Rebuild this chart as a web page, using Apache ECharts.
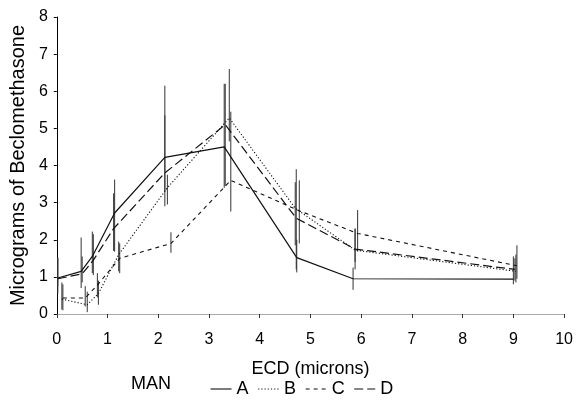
<!DOCTYPE html>
<html><head><meta charset="utf-8">
<script src="https://cdn.jsdelivr.net/npm/echarts@6/dist/echarts.min.js"></script>
<style>html,body{margin:0;padding:0;background:#fff}#c{width:576px;height:401px}</style>
</head><body><div id="c"></div>
<script>
// ---- data ----
const seriesNames = ['A', 'B', 'C', 'D'];
const xTicks = [0,1,2,3,4,5,6,7,8,9,10];
const yTicks = [0,1,2,3,4,5,6,7,8];

const xA = [0.02, 0.48, 0.70, 1.14, 2.13, 3.30, 4.73, 5.84, 9.00];
const yA = [0.97, 1.15, 1.55, 2.72, 4.22, 4.50, 1.52, 0.95, 0.94];
const loA = [0.55, 0.70, 1.10, 1.68, 3.30, 3.40, 1.12, 0.65, 0.80];
const hiA = [1.52, 2.06, 2.22, 3.62, 6.15, 6.20, 2.00, 1.25, 1.55];

const xB = [0.10, 0.60, 0.82, 1.22, 2.18, 3.40, 4.70, 5.88, 9.05];
const yB = [0.40, 0.25, 0.55, 1.60, 3.40, 5.28, 2.85, 1.72, 1.15];
const loB = [0.12, 0.05, 0.25, 1.15, 2.95, 4.65, 1.85, 1.20, 0.85];
const hiB = [0.85, 0.60, 0.90, 1.95, 3.75, 6.60, 3.55, 2.30, 1.60];

const xC = [0.12, 0.56, 0.80, 1.24, 2.25, 3.43, 4.78, 5.93, 9.07];
const yC = [0.43, 0.43, 0.78, 1.50, 1.90, 3.60, 2.78, 2.17, 1.30];
const loC = [0.10, 0.20, 0.45, 1.10, 1.65, 2.76, 1.90, 1.68, 0.95];
const hiC = [0.80, 0.75, 1.10, 1.90, 2.20, 5.45, 3.60, 2.80, 1.85];

const xD = [0.02, 0.50, 0.72, 1.12, 2.13, 3.32, 4.72, 5.88, 9.03];
const yD = [0.95, 1.08, 1.45, 2.30, 3.80, 5.10, 2.58, 1.75, 1.20];
const loD = [0.75, 0.85, 1.05, 1.70, 2.90, 3.45, 1.20, 1.40, 0.90];
const hiD = [1.50, 1.55, 2.15, 3.25, 5.35, 6.20, 3.90, 2.30, 1.50];

// ---- build ----
const FONT = "'Liberation Sans', Arial, Helvetica, sans-serif";
const sets = [
  {name: seriesNames[0], x: xA, y: yA, lo: loA, hi: hiA, dash: 'solid', w: 1.2},
  {name: seriesNames[1], x: xB, y: yB, lo: loB, hi: hiB, dash: [1.2, 2], w: 1.1},
  {name: seriesNames[2], x: xC, y: yC, lo: loC, hi: hiC, dash: [4, 4], w: 1.1},
  {name: seriesNames[3], x: xD, y: yD, lo: loD, hi: hiD, dash: [9, 4], w: 1.2}
];
const series = [];
sets.forEach(s => {
  series.push({
    type: 'line', name: s.name,
    data: s.x.map((v, i) => [v, s.y[i]]),
    symbol: 'none',
    lineStyle: {color: '#111', width: s.w, type: s.dash},
    itemStyle: {color: '#111'},
    silent: true, animation: false, z: 3
  });
  series.push({
    type: 'custom', name: s.name + '_err',
    data: s.x.map((v, i) => [v, s.lo[i], s.hi[i]]),
    renderItem: function (params, api) {
      const p1 = api.coord([api.value(0), api.value(1)]);
      const p2 = api.coord([api.value(0), api.value(2)]);
      return {type: 'line', shape: {x1: p1[0], y1: p1[1], x2: p2[0], y2: p2[1]},
              style: {stroke: '#333', lineWidth: 1}};
    },
    silent: true, animation: false, z: 2
  });
});

const chart = echarts.init(document.getElementById('c'), null, {renderer: 'canvas'});
chart.setOption({
  animation: false,
  backgroundColor: '#fff',
  textStyle: {fontFamily: FONT, color: '#000'},
  grid: {left: 53, right: 8, top: 17, bottom: 87, containLabel: false},
  xAxis: {
    type: 'value', min: xTicks[0], max: xTicks[xTicks.length - 1], interval: 1,
    offset: 4,
    name: 'ECD (microns)', nameLocation: 'middle', nameGap: 42,
    nameTextStyle: {fontSize: 18, color: '#000', fontFamily: FONT},
    axisLine: {show: true, lineStyle: {color: '#aaa', width: 1}},
    axisTick: {show: true, length: 4, lineStyle: {color: '#333'}},
    axisLabel: {fontSize: 16, color: '#000', margin: 14, fontFamily: FONT,
                formatter: v => xTicks.includes(v) ? String(v) : ''},
    splitLine: {show: false}
  },
  yAxis: {
    type: 'value', min: yTicks[0], max: yTicks[yTicks.length - 1], interval: 1,
    offset: 3,
    name: 'Micrograms of Beclomethasone', nameLocation: 'middle', nameGap: 22,
    nameTextStyle: {fontSize: 20, color: '#000', fontFamily: FONT},
    axisLine: {show: true, lineStyle: {color: '#000', width: 1}},
    axisTick: {show: true, length: 3, lineStyle: {color: '#000'}},
    axisLabel: {fontSize: 16, color: '#000', margin: 6, fontFamily: FONT},
    splitLine: {show: false}
  },
  legend: {
    data: seriesNames,
    left: 205, top: 375,
    itemWidth: 21, itemHeight: 14, itemGap: 9,
    itemStyle: {opacity: 0},
    lineStyle: {width: 1.1, color: '#111'},
    textStyle: {fontSize: 18, color: '#000', fontFamily: FONT},
    selectedMode: false
  },
  graphic: [{
    type: 'text', left: 131, top: 375,
    style: {text: 'MAN', fontSize: 18, fill: '#000', fontFamily: FONT}
  }],
  series: series
});
</script>
</body></html>
